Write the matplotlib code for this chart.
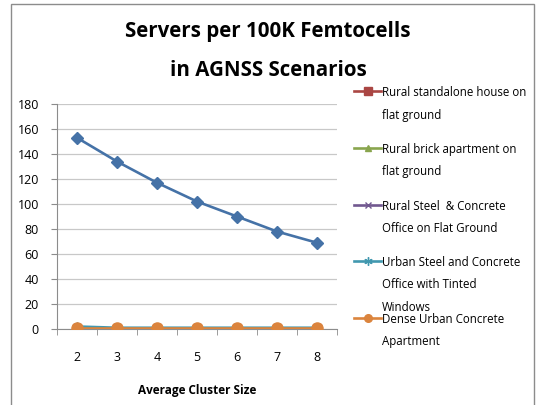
import matplotlib.pyplot as plt
from matplotlib.lines import Line2D
from matplotlib.patches import Rectangle

cluster_size = ['2', '3', '4', '5', '6', '7', '8']

suburban = [153, 134, 117, 102, 90, 78, 69]
rural_house = [1, 1, 1, 1, 1, 1, 1]
rural_brick = [1, 1, 1, 1, 1, 1, 1]
rural_steel = [1, 1, 1, 1, 1, 1, 1]
urban_steel = [2, 1, 1, 1, 1, 1, 1]
dense_urban = [1, 1, 1, 1, 1, 1, 1]

legend_names = ['Rural standalone house on\nflat ground',
                'Rural brick apartment on\nflat ground',
                'Rural Steel  & Concrete\nOffice on Flat Ground',
                'Urban Steel and Concrete\nOffice with Tinted\nWindows',
                'Dense Urban Concrete\nApartment']

asterisk = (6, 2, 0)
series = [
    (rural_house, '#AA4643', 's', 6, 6),
    (rural_brick, '#89A54E', '^', 6, 5),
    (rural_steel, '#71588F', 'x', 6, 5),
    (urban_steel, '#4198AF', asterisk, 7, 6),
    (dense_urban, '#DB843D', 'o', 8, 5.5),
]

plt.rcParams['font.family'] = ['Open Sans', 'DejaVu Sans']

fig = plt.figure(figsize=(5.36, 4.05), dpi=100)
fig.patches.append(Rectangle((11 / 536, -0.01), 523 / 536, 1.0, transform=fig.transFigure,
                             fill=False, edgecolor='#8c8c8c', linewidth=1))

ax = fig.add_axes([57 / 536, 1 - 329 / 405, 280 / 536, 225 / 405])
x = list(range(len(cluster_size)))

ax.plot(x, suburban, color='#4572A7', marker='D', markersize=6.5, linewidth=1.9, zorder=3)
for vals, col, mk, ms, lms in series:
    ax.plot(x, vals, color=col, marker=mk, markersize=ms, linewidth=1.9,
            markeredgecolor=col, zorder=3)

ax.set_xlim(-0.5, len(x) - 0.5)
ax.set_ylim(0, 180)
ax.set_yticks(range(0, 181, 20))
ax.set_xticks(x)
ax.set_xticklabels(cluster_size)
ax.set_xticks([i - 0.5 for i in range(len(x) + 1)], minor=True)
ax.tick_params(axis='x', which='major', length=0, labelsize=9, pad=16)
ax.tick_params(axis='x', which='minor', length=4, color='#8c8c8c', direction='out')
ax.tick_params(axis='y', length=4, color='#8c8c8c', labelsize=9, pad=9)
ax.grid(axis='y', color='#c8c8c8', linewidth=0.9)
ax.set_axisbelow(True)
for s in ['top', 'right']:
    ax.spines[s].set_visible(False)
ax.spines['left'].set_color('#8c8c8c')
ax.spines['bottom'].set_color('#8c8c8c')

ax.set_xlabel('Average Cluster Size', fontsize=8.5, fontweight='bold', labelpad=14)

fig.text(0.5, 1 - 32 / 405, 'Servers per 100K Femtocells', ha='center', va='center',
         fontsize=14.8, fontweight='bold')
fig.text(0.5, 1 - 70 / 405, 'in AGNSS Scenarios', ha='center', va='center',
         fontsize=14.8, fontweight='bold')

# legend entries, evenly spaced like the original
tops = [91, 148, 205, 261, 318]
for (vals, col, mk, ms, lms), name, ty in zip(series, legend_names, tops):
    yf = 1 - ty / 405
    fig.add_artist(Line2D([354 / 536, 381 / 536], [yf, yf], color=col, linewidth=1.9,
                          transform=fig.transFigure))
    fig.add_artist(Line2D([367.5 / 536], [yf], color=col, marker=mk, markersize=lms,
                          markeredgecolor=col, transform=fig.transFigure))
    fig.text(382 / 536, 1 - (ty - 5) / 405, name, ha='left', va='top', fontsize=8.3,
             linespacing=1.95, transform=fig.transFigure)

fig.savefig('out.png', dpi=100)
